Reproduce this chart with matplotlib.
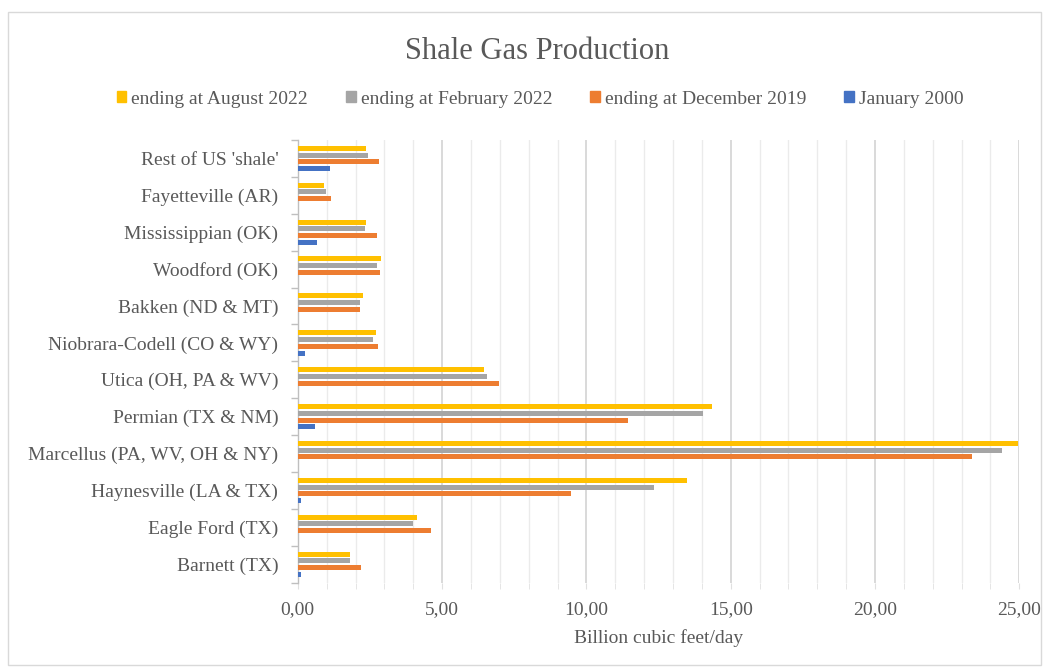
import matplotlib
matplotlib.use("Agg")
import matplotlib.pyplot as plt
import numpy as np
from matplotlib.patches import Rectangle
from matplotlib.ticker import FuncFormatter, MultipleLocator, FixedLocator

plt.rcParams['font.family'] = ['Liberation Serif', 'DejaVu Serif']

categories = ["Barnett (TX)", "Eagle Ford (TX)", "Haynesville (LA & TX)",
              "Marcellus (PA, WV, OH & NY)", "Permian (TX & NM)", "Utica (OH, PA & WV)",
              "Niobrara-Codell (CO & WY)", "Bakken (ND & MT)", "Woodford (OK)",
              "Mississippian (OK)", "Fayetteville (AR)", "Rest of US 'shale'"]

aug_2022 = [1.81, 4.12, 13.50, 24.97, 14.35, 6.45, 2.70, 2.25, 2.89, 2.37, 0.92, 2.36]
feb_2022 = [1.81, 3.98, 12.35, 24.39, 14.05, 6.57, 2.62, 2.16, 2.76, 2.34, 0.98, 2.42]
dec_2019 = [2.18, 4.63, 9.45, 23.37, 11.44, 6.97, 2.78, 2.16, 2.86, 2.74, 1.15, 2.83]
jan_2000 = [0.11, 0.00, 0.11, 0.00, 0.61, 0.00, 0.24, 0.00, 0.00, 0.67, 0.00, 1.12]

series_names = ["ending at August 2022", "ending at February 2022",
                "ending at December 2019", "January 2000"]
colors = ["#FFC000", "#A5A5A5", "#ED7D31", "#4472C4"]
text_color = "#595959"

fig = plt.figure(figsize=(10.49, 6.69), dpi=100)
ax = fig.add_axes([0.2839, 0.129, 0.6878, 0.6617])

y = np.arange(len(categories))
pitch = 0.184
hgt = 0.135
offsets = [1.5 * pitch, 0.5 * pitch, -0.5 * pitch, -1.5 * pitch]
for vals, off, col in zip([aug_2022, feb_2022, dec_2019, jan_2000], offsets, colors):
    ax.barh(y + off, vals, height=hgt, color=col, zorder=3)

ax.set_xlim(0, 25)
ax.set_ylim(-0.5, len(categories) - 0.5)

ax.xaxis.set_major_locator(MultipleLocator(5))
ax.xaxis.set_minor_locator(MultipleLocator(1))
ax.xaxis.set_major_formatter(FuncFormatter(lambda v, p: f"{v:.2f}".replace('.', ',')))
ax.grid(axis='x', which='major', color='#d0d0d0', linewidth=1.1, zorder=0)
ax.grid(axis='x', which='minor', color='#ebebeb', linewidth=1.0, zorder=0)
ax.tick_params(axis='x', which='major', length=4, color='#e0e0e0', labelsize=14,
               labelcolor=text_color, pad=9)
ax.tick_params(axis='x', which='minor', length=4, color='#e0e0e0')

ax.set_yticks(y)
ax.set_yticklabels(categories)
ax.yaxis.set_minor_locator(FixedLocator(np.arange(-0.5, len(categories), 1.0)))
ax.tick_params(axis='y', which='major', length=0, labelsize=14, labelcolor=text_color, pad=14)
ax.tick_params(axis='y', which='minor', length=5, color='#bfbfbf', width=1)

for s in ['top', 'right', 'bottom']:
    ax.spines[s].set_visible(False)
ax.spines['left'].set_color('#bfbfbf')
ax.spines['left'].set_linewidth(1.0)

ax.set_xlabel("Billion cubic feet/day", fontsize=14, color=text_color, labelpad=8)

fig.text(537 / 1049, 1 - 59 / 669, "Shale Gas Production", ha='center', va='baseline',
         fontsize=22, color=text_color)

handles = [Rectangle((0, 0), 1, 1, color=c) for c in colors]
leg = fig.legend(handles, series_names, loc='center', bbox_to_anchor=(540 / 1049, 1 - 99 / 669),
                 ncol=4, frameon=False, fontsize=14, handlelength=0.5, handleheight=0.5,
                 handletextpad=0.25, columnspacing=1.95, labelcolor=text_color)

frame = Rectangle((8 / 1049, 1 - 665 / 669), (1041 - 8) / 1049, (665 - 12) / 669,
                  transform=fig.transFigure, fill=False, edgecolor='#d9d9d9', linewidth=1.0)
fig.patches.append(frame)

fig.savefig("out.png", dpi=100)
